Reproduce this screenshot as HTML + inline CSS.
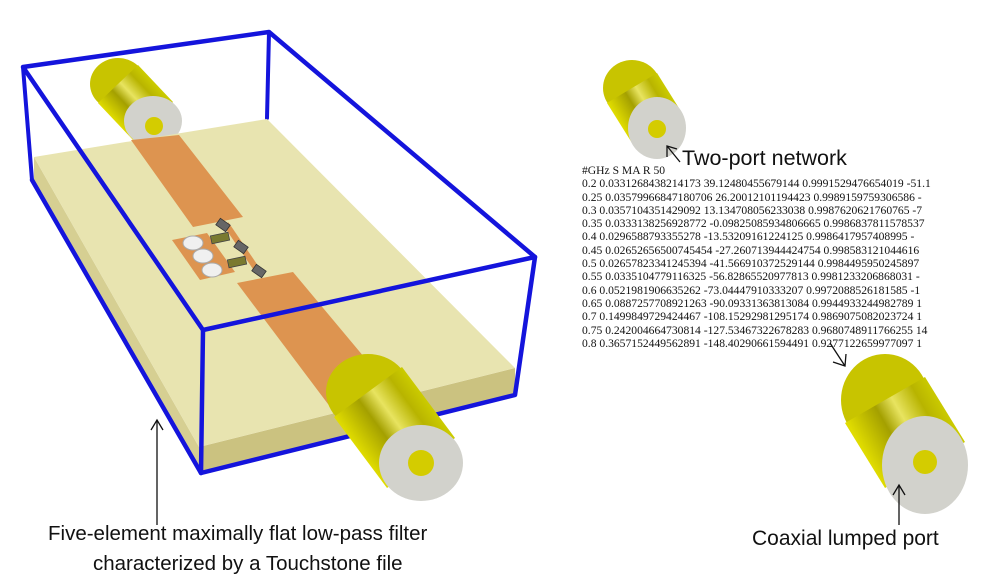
<!DOCTYPE html>
<html><head><meta charset="utf-8"><style>
html,body{margin:0;padding:0;background:#fff;}
body{width:1000px;height:585px;overflow:hidden;position:relative;}
svg{position:absolute;left:0;top:0;}
.tbl{position:absolute;left:582px;top:164px;width:352px;overflow:hidden;white-space:nowrap;font-family:"Liberation Serif",serif;font-size:11.6px;line-height:13.3px;color:#111;}
.lbl{position:absolute;font-family:"Liberation Sans",sans-serif;color:#111;white-space:nowrap;}
</style></head><body>
<svg width="1000" height="585" viewBox="0 0 1000 585">
<defs>
<linearGradient id="g1" gradientUnits="userSpaceOnUse" x1="387" y1="488" x2="455" y2="438"><stop offset="0" stop-color="#e0dc00"/><stop offset="0.35" stop-color="#a4a000"/><stop offset="0.55" stop-color="#e8e460"/><stop offset="0.8" stop-color="#b8b400"/><stop offset="1" stop-color="#cccc00"/></linearGradient>
<linearGradient id="g2" gradientUnits="userSpaceOnUse" x1="133" y1="140" x2="173" y2="102"><stop offset="0" stop-color="#e0dc00"/><stop offset="0.35" stop-color="#a4a000"/><stop offset="0.55" stop-color="#e8e460"/><stop offset="0.8" stop-color="#b8b400"/><stop offset="1" stop-color="#cccc00"/></linearGradient>
<linearGradient id="g3" gradientUnits="userSpaceOnUse" x1="632" y1="143" x2="682" y2="113"><stop offset="0" stop-color="#e0dc00"/><stop offset="0.35" stop-color="#a4a000"/><stop offset="0.55" stop-color="#e8e460"/><stop offset="0.8" stop-color="#b8b400"/><stop offset="1" stop-color="#cccc00"/></linearGradient>
<linearGradient id="g4" gradientUnits="userSpaceOnUse" x1="885" y1="488" x2="965" y2="442"><stop offset="0" stop-color="#e0dc00"/><stop offset="0.35" stop-color="#a4a000"/><stop offset="0.55" stop-color="#e8e460"/><stop offset="0.8" stop-color="#b8b400"/><stop offset="1" stop-color="#cccc00"/></linearGradient>
</defs>
<g stroke="#1414dc" stroke-width="4" stroke-linecap="round" fill="none">
<line x1="23" y1="67" x2="32" y2="180"/>
<line x1="269" y1="32" x2="267" y2="118"/>
</g>
<!-- top-left coax -->
<ellipse cx="118" cy="84" rx="28" ry="26" fill="#c8c400"/>
<polygon points="173,102 138,65 98,103 133,140" fill="url(#g2)"/>
<ellipse cx="153" cy="121" rx="29" ry="25" fill="#d2d2cc"/>
<circle cx="154" cy="126" r="9" fill="#d4cc00"/>
<!-- substrate -->
<polygon points="34,157 199,447 201,474 34,184" fill="#d6cf92"/>
<polygon points="199,447 515,368 515,393 201,474" fill="#cbc280"/>
<polygon points="34,157 267,119 515,368 199,447" fill="#e8e4b0"/>
<!-- strips -->
<polygon points="131,140 179,135 243,217 193,227" fill="#dd9450"/>
<polygon points="237,283 293,272 400,400 340,420" fill="#dd9450"/>
<polygon points="172,240 207,233 235,272 200,280" fill="#dd9450"/>
<line x1="226" y1="224" x2="260" y2="274" stroke="#dd9450" stroke-width="6"/>
<ellipse cx="193" cy="243" rx="10" ry="7" fill="#f0f0f0" stroke="#aaa" stroke-width="1"/>
<ellipse cx="203" cy="256" rx="10" ry="7" fill="#f0f0f0" stroke="#aaa" stroke-width="1"/>
<ellipse cx="212" cy="270" rx="10" ry="7" fill="#f0f0f0" stroke="#aaa" stroke-width="1"/>
<g fill="#666" stroke="#333" stroke-width="0.8">
<rect x="-6" y="-4" width="12" height="8" transform="translate(223,225) rotate(35)"/>
<rect x="-6" y="-4" width="12" height="8" transform="translate(241,247) rotate(35)"/>
<rect x="-6" y="-4" width="12" height="8" transform="translate(259,271) rotate(35)"/>
</g>
<g fill="#7a7a30" stroke="#444" stroke-width="0.8">
<rect x="-9" y="-4" width="18" height="8" transform="translate(220,238) rotate(-12)"/>
<rect x="-9" y="-4" width="18" height="8" transform="translate(237,262) rotate(-12)"/>
</g>
<!-- front box edges -->
<g stroke="#1414dc" stroke-width="4.5" stroke-linecap="round" stroke-linejoin="round" fill="none">
<polyline points="32,180 201,473 515,395 535,257"/>
<line x1="203" y1="330" x2="201" y2="473"/>
<polygon points="23,67 269,32 535,257 203,330"/>
</g>
<!-- bottom coax -->
<ellipse cx="368" cy="392" rx="42" ry="38" fill="#c8c400"/>
<polygon points="455,438 402,367 334,417 387,488" fill="url(#g1)"/>
<ellipse cx="421" cy="463" rx="42" ry="38" fill="#d2d2cc"/>
<circle cx="421" cy="463" r="13" fill="#d4cc00"/>
<!-- right coax 1 -->
<ellipse cx="632" cy="88" rx="29" ry="28" fill="#c8c400"/>
<polygon points="682,113 657,73 607,103 632,143" fill="url(#g3)"/>
<ellipse cx="657" cy="128" rx="29" ry="31" fill="#d2d2cc"/>
<circle cx="657" cy="129" r="9" fill="#d4cc00"/>
<!-- right coax 2 -->
<ellipse cx="885" cy="400" rx="44" ry="46" fill="#c8c400"/>
<polygon points="965,442 925,377 845,423 885,488" fill="url(#g4)"/>
<ellipse cx="925" cy="465" rx="43" ry="49" fill="#d2d2cc"/>
<circle cx="925" cy="462" r="12" fill="#d4cc00"/>
<!-- arrows -->
<g stroke="#111" stroke-width="1.3" fill="none">
<line x1="157" y1="525" x2="157" y2="420"/><polyline points="151,430 157,420 163,430"/>
<line x1="680" y1="162" x2="667" y2="146"/><polyline points="667,157 667,146 677,149"/>
<line x1="830" y1="343" x2="845" y2="366"/><polyline points="833,362 845,366 846,354"/>
<line x1="899" y1="525" x2="899" y2="485"/><polyline points="893,495 899,485 905,495"/>
</g>
</svg>
<div class="tbl">#GHz S MA R 50<br>
0.2 0.0331268438214173 39.12480455679144 0.9991529476654019 -51.1<br>
0.25 0.03579966847180706 26.20012101194423 0.9989159759306586 -<br>
0.3 0.0357104351429092 13.134708056233038 0.9987620621760765 -7<br>
0.35 0.0333138256928772 -0.09825085934806665 0.9986837811578537<br>
0.4 0.0296588793355278 -13.53209161224125 0.9986417957408995 -<br>
0.45 0.02652656500745454 -27.260713944424754 0.998583121044616<br>
0.5 0.02657823341245394 -41.566910372529144 0.9984495950245897<br>
0.55 0.0335104779116325 -56.82865520977813 0.9981233206868031 -<br>
0.6 0.0521981906635262 -73.04447910333207 0.9972088526181585 -1<br>
0.65 0.0887257708921263 -90.09331363813084 0.9944933244982789 1<br>
0.7 0.1499849729424467 -108.15292981295174 0.9869075082023724 1<br>
0.75 0.242004664730814 -127.53467322678283 0.9680748911766255 14<br>
0.8 0.3657152449562891 -148.40290661594491 0.9277122659977097 1</div>
<div class="lbl" style="left:682px;top:146px;font-size:21.5px;">Two-port network</div>
<div class="lbl" style="left:752px;top:527px;font-size:21px;">Coaxial lumped port</div>
<div class="lbl" style="left:48px;top:522px;font-size:20.5px;">Five-element maximally flat low-pass filter</div>
<div class="lbl" style="left:93px;top:552px;font-size:20.5px;">characterized by a Touchstone file</div>
</body></html>
